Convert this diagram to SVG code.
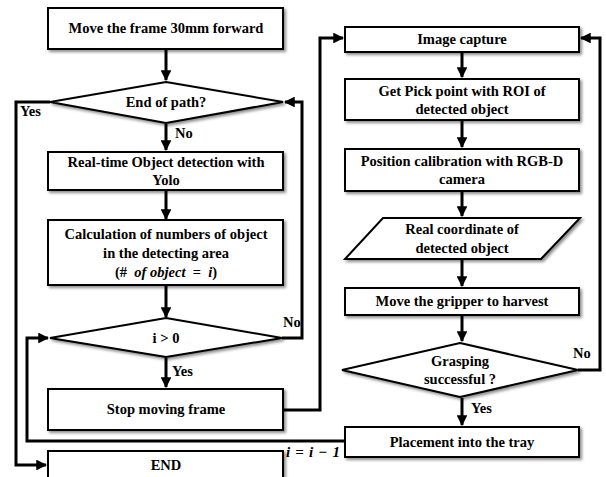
<svg xmlns="http://www.w3.org/2000/svg" width="606" height="477" viewBox="0 0 606 477">
<style>
.box{fill:#fff;stroke:#000;stroke-width:2;filter:url(#sh)}
.t{font-family:"Liberation Serif","Times New Roman",serif;font-weight:bold;font-size:14.5px;text-anchor:middle;fill:#000}
.lbl{font-family:"Liberation Serif","Times New Roman",serif;font-weight:bold;font-size:14.5px;fill:#000}
.m{font-style:italic}
.c{fill:none;stroke:#000;stroke-width:3}
</style>
<defs>
<filter id="sh" x="-10%" y="-20%" width="130%" height="160%">
<feDropShadow dx="2" dy="2" stdDeviation="1.5" flood-color="#000" flood-opacity="0.45"/>
</filter>
<marker id="ah" viewBox="0 0 10 10" refX="9" refY="5" markerWidth="3.6" markerHeight="3.6" orient="auto" markerUnits="strokeWidth">
<path d="M0,0 L10,5 L0,10 z" fill="#000"/>
</marker>
</defs>
<rect width="606" height="477" fill="#fff"/>

<g id="connectors">
<line class="c" x1="166" y1="50" x2="166" y2="80" marker-end="url(#ah)"/>
<line class="c" x1="166" y1="124" x2="166" y2="150" marker-end="url(#ah)"/>
<line class="c" x1="166" y1="191" x2="166" y2="219" marker-end="url(#ah)"/>
<line class="c" x1="166" y1="286" x2="166" y2="317" marker-end="url(#ah)"/>
<line class="c" x1="166" y1="358" x2="166" y2="387" marker-end="url(#ah)"/>
<polyline class="c" points="50,102 16,102 16,465 46,465" marker-end="url(#ah)"/>
<polyline class="c" points="282,338 302,338 302,102 285,102" marker-end="url(#ah)"/>
<polyline class="c" points="344,441 27,441 27,338 48,338" marker-end="url(#ah)"/>
<polyline class="c" points="282,410 320,410 320,38 343,38" marker-end="url(#ah)"/>
<polyline class="c" points="578,370 600,370 600,38 581,38" marker-end="url(#ah)"/>
<line class="c" x1="462" y1="53" x2="462" y2="77" marker-end="url(#ah)"/>
<line class="c" x1="462" y1="121" x2="462" y2="147" marker-end="url(#ah)"/>
<line class="c" x1="462" y1="192" x2="462" y2="216" marker-end="url(#ah)"/>
<line class="c" x1="462" y1="260" x2="462" y2="286" marker-end="url(#ah)"/>
<line class="c" x1="462" y1="316" x2="462" y2="341" marker-end="url(#ah)"/>
<line class="c" x1="462" y1="398" x2="462" y2="425" marker-end="url(#ah)"/>
<text class="lbl" x="20" y="116">Yes</text>
<text class="lbl" x="175" y="138">No</text>
<text class="lbl" x="283" y="327">No</text>
<text class="lbl" x="172" y="376">Yes</text>
<text class="lbl" x="573" y="358">No</text>
<text class="lbl" x="471" y="413">Yes</text>
<text class="lbl m" x="286" y="457" textLength="54" lengthAdjust="spacing" style="font-size:15px">i = i − 1</text>
</g>

<g id="n1"><rect class="box" x="48" y="8" width="235" height="41"/><text class="t" x="166" y="33">Move the frame 30mm forward</text></g>
<g id="n2"><polygon class="box" points="166,82 283,102 166,123 50,102"/><text class="t" x="166" y="107">End of path?</text></g>
<g id="n3"><rect class="box" x="48" y="152" width="235" height="38"/><text class="t" x="166" y="167">Real-time Object detection with</text><text class="t" x="166" y="185">Yolo</text></g>
<g id="n4"><rect class="box" x="48" y="220" width="235" height="65"/><text class="t" x="166" y="239">Calculation of numbers of object</text><text class="t" x="166" y="258">in the detecting area</text><text class="t" x="166" y="277" xml:space="preserve">(#  <tspan class="m">of object</tspan>  =  <tspan class="m">i</tspan>)</text></g>
<g id="n5"><polygon class="box" points="166,318 282,338 166,357 50,338"/><text class="t" x="166" y="343">i &gt; 0</text></g>
<g id="n6"><rect class="box" x="48" y="389" width="235" height="41"/><text class="t" x="166" y="414">Stop moving frame</text></g>
<g id="n7"><rect class="box" x="48" y="451" width="235" height="40"/><text class="t" x="166" y="470">END</text></g>

<g id="n8"><rect class="box" x="345" y="27" width="234" height="25"/><text class="t" x="462" y="44">Image capture</text></g>
<g id="n9"><rect class="box" x="345" y="79" width="234" height="41"/><text class="t" x="462" y="96">Get Pick point with ROI of</text><text class="t" x="462" y="114">detected object</text></g>
<g id="n10"><rect class="box" x="345" y="149" width="234" height="42"/><text class="t" x="462" y="166">Position calibration with RGB-D</text><text class="t" x="462" y="184">camera</text></g>
<g id="n11"><polygon class="box" points="383,218 580,218 541,259 345,259"/><text class="t" x="462" y="234">Real coordinate of</text><text class="t" x="462" y="253">detected object</text></g>
<g id="n12"><rect class="box" x="345" y="288" width="234" height="27"/><text class="t" x="462" y="306">Move the gripper to harvest</text></g>
<g id="n13"><polygon class="box" points="460,343 578,370 460,397 342,370"/><text class="t" x="460" y="366">Grasping</text><text class="t" x="460" y="384">successful ?</text></g>
<g id="n14"><rect class="box" x="345" y="427" width="234" height="30"/><text class="t" x="462" y="447">Placement into the tray</text></g>
</svg>
